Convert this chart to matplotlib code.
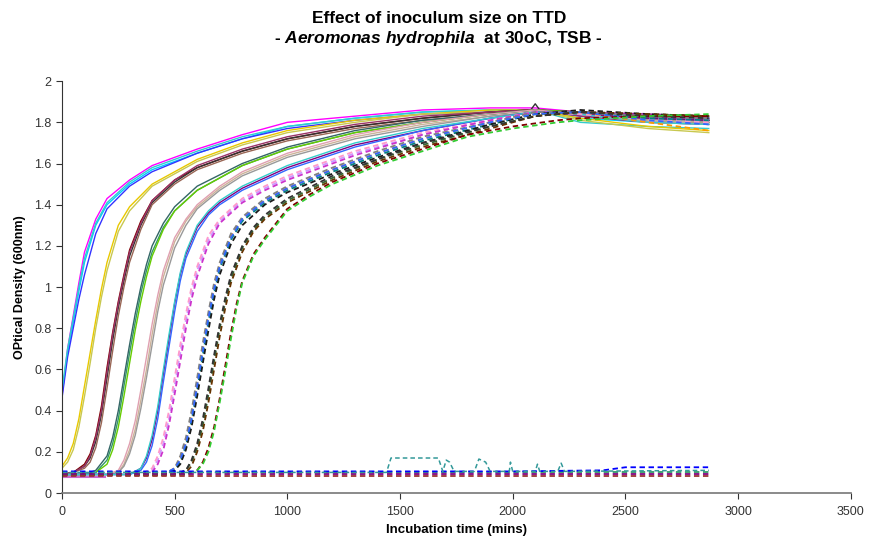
import numpy as np
import matplotlib.pyplot as plt

# ---- data (time in mins, OD at 600nm) ----
# group A: already growing at t=0
t_a = [0, 25, 50, 75, 100, 150, 200, 300, 400, 600, 800, 1000, 1300, 1600, 1900, 2100, 2300, 2600, 2870]
od_a = [
    [0.47, 0.70, 0.86, 1.02, 1.17, 1.33, 1.43, 1.52, 1.59, 1.67, 1.74, 1.80, 1.83, 1.86, 1.87, 1.87, 1.85, 1.84, 1.83],
    [0.48, 0.68, 0.83, 0.98, 1.12, 1.30, 1.40, 1.50, 1.57, 1.65, 1.72, 1.78, 1.82, 1.85, 1.86, 1.86, 1.82, 1.80, 1.79],
    [0.46, 0.66, 0.80, 0.94, 1.06, 1.26, 1.38, 1.49, 1.56, 1.65, 1.72, 1.77, 1.81, 1.84, 1.85, 1.86, 1.83, 1.82, 1.81],
    [0.50, 0.70, 0.85, 1.00, 1.14, 1.31, 1.41, 1.51, 1.58, 1.66, 1.73, 1.78, 1.82, 1.85, 1.86, 1.86, 1.80, 1.78, 1.77],
]
col_a = ['#FF00FF', '#00CCFF', '#3333FF', '#33CCCC']

# group B: yellow curves
t_b = [0, 25, 50, 75, 100, 125, 150, 175, 200, 250, 300, 400, 600, 800, 1000, 1300, 1600, 1900, 2100, 2300, 2600, 2870]
od_b = [
    [0.13, 0.17, 0.24, 0.36, 0.52, 0.68, 0.84, 0.99, 1.12, 1.30, 1.39, 1.50, 1.62, 1.70, 1.76, 1.81, 1.84, 1.86, 1.86, 1.82, 1.78, 1.76],
    [0.12, 0.15, 0.21, 0.32, 0.47, 0.63, 0.80, 0.95, 1.08, 1.27, 1.37, 1.49, 1.61, 1.69, 1.75, 1.80, 1.84, 1.85, 1.86, 1.81, 1.77, 1.75],
]
col_b = ['#E8C800', '#C8C850']

# group C: dark red / black
t_c = [0, 50, 100, 125, 150, 175, 200, 225, 250, 275, 300, 350, 400, 500, 600, 800, 1000, 1300, 1600, 1900, 2080, 2100, 2120, 2300, 2600, 2870]
od_c = [
    [0.09, 0.10, 0.14, 0.19, 0.28, 0.42, 0.61, 0.78, 0.93, 1.06, 1.18, 1.32, 1.42, 1.52, 1.58, 1.66, 1.72, 1.78, 1.82, 1.85, 1.86, 1.86, 1.86, 1.84, 1.82, 1.81],
    [0.09, 0.10, 0.13, 0.17, 0.25, 0.38, 0.56, 0.74, 0.90, 1.03, 1.15, 1.30, 1.41, 1.51, 1.58, 1.66, 1.72, 1.78, 1.82, 1.85, 1.86, 1.89, 1.86, 1.85, 1.83, 1.82],
    [0.09, 0.10, 0.12, 0.15, 0.22, 0.34, 0.51, 0.69, 0.86, 1.00, 1.12, 1.28, 1.40, 1.50, 1.57, 1.65, 1.71, 1.77, 1.81, 1.84, 1.86, 1.86, 1.86, 1.84, 1.81, 1.80],
    [0.09, 0.10, 0.13, 0.18, 0.27, 0.40, 0.59, 0.77, 0.92, 1.05, 1.17, 1.31, 1.42, 1.52, 1.59, 1.67, 1.73, 1.79, 1.83, 1.85, 1.86, 1.86, 1.86, 1.83, 1.80, 1.79],
]
col_c = ['#800000', '#333333', '#996655', '#993366']

# group D1: teal / green solid
t_d1 = [0, 100, 150, 200, 225, 250, 275, 300, 325, 350, 375, 400, 450, 500, 600, 800, 1000, 1300, 1600, 1900, 2100, 2300, 2600, 2870]
od_d1 = [
    [0.09, 0.09, 0.10, 0.16, 0.24, 0.36, 0.52, 0.68, 0.83, 0.97, 1.08, 1.17, 1.29, 1.37, 1.47, 1.59, 1.67, 1.75, 1.80, 1.84, 1.86, 1.84, 1.82, 1.81],
    [0.09, 0.09, 0.10, 0.14, 0.21, 0.32, 0.47, 0.63, 0.79, 0.93, 1.05, 1.15, 1.28, 1.37, 1.47, 1.59, 1.67, 1.75, 1.80, 1.84, 1.86, 1.85, 1.83, 1.83],
    [0.09, 0.09, 0.11, 0.18, 0.27, 0.40, 0.56, 0.72, 0.87, 1.00, 1.11, 1.20, 1.31, 1.39, 1.49, 1.60, 1.68, 1.76, 1.81, 1.84, 1.86, 1.84, 1.81, 1.80],
]
col_d1 = ['#339966', '#66CC00', '#336666']

# group D2: tan / grey solid
t_d2 = [0, 200, 250, 275, 300, 325, 350, 375, 400, 425, 450, 500, 550, 600, 700, 800, 1000, 1300, 1600, 1900, 2100, 2300, 2600, 2870]
od_d2 = [
    [0.09, 0.09, 0.10, 0.14, 0.21, 0.31, 0.45, 0.60, 0.77, 0.92, 1.05, 1.22, 1.32, 1.39, 1.48, 1.55, 1.64, 1.73, 1.79, 1.83, 1.85, 1.84, 1.81, 1.80],
    [0.09, 0.09, 0.10, 0.13, 0.19, 0.28, 0.41, 0.56, 0.72, 0.88, 1.01, 1.19, 1.30, 1.38, 1.47, 1.54, 1.63, 1.72, 1.78, 1.83, 1.85, 1.85, 1.83, 1.82],
    [0.09, 0.09, 0.11, 0.16, 0.24, 0.35, 0.50, 0.66, 0.82, 0.96, 1.08, 1.24, 1.33, 1.40, 1.49, 1.56, 1.65, 1.74, 1.80, 1.84, 1.86, 1.84, 1.80, 1.79],
]
col_d2 = ['#CCB299', '#999999', '#E0A0B0']

# group E: purple / blue
t_e = [0, 300, 350, 375, 400, 425, 450, 475, 500, 525, 550, 600, 650, 700, 800, 1000, 1300, 1600, 1900, 2100, 2300, 2600, 2870]
od_e = [
    [0.09, 0.09, 0.12, 0.17, 0.26, 0.40, 0.58, 0.75, 0.92, 1.06, 1.16, 1.29, 1.36, 1.41, 1.48, 1.58, 1.69, 1.76, 1.82, 1.85, 1.84, 1.82, 1.81],
    [0.09, 0.09, 0.11, 0.15, 0.23, 0.36, 0.54, 0.71, 0.88, 1.03, 1.14, 1.27, 1.35, 1.40, 1.47, 1.57, 1.68, 1.76, 1.82, 1.85, 1.85, 1.83, 1.82],
    [0.09, 0.09, 0.12, 0.18, 0.28, 0.42, 0.60, 0.77, 0.93, 1.07, 1.17, 1.30, 1.37, 1.42, 1.49, 1.59, 1.70, 1.77, 1.82, 1.85, 1.84, 1.80, 1.79],
]
col_e = ['#800080', '#3366FF', '#33CCCC']

# group F: lilac / pink dashed
t_f = [0, 350, 400, 425, 450, 475, 500, 525, 550, 575, 600, 650, 700, 800, 900, 1000, 1300, 1600, 1900, 2100, 2300, 2600, 2870]
od_f = [
    [0.09, 0.09, 0.11, 0.16, 0.24, 0.36, 0.52, 0.68, 0.84, 0.97, 1.08, 1.23, 1.32, 1.42, 1.48, 1.53, 1.65, 1.74, 1.81, 1.85, 1.85, 1.82, 1.81],
    [0.09, 0.09, 0.12, 0.18, 0.27, 0.40, 0.56, 0.72, 0.87, 1.00, 1.10, 1.25, 1.33, 1.43, 1.49, 1.54, 1.66, 1.75, 1.81, 1.85, 1.84, 1.81, 1.80],
    [0.09, 0.09, 0.10, 0.14, 0.21, 0.33, 0.48, 0.64, 0.80, 0.94, 1.05, 1.21, 1.31, 1.41, 1.47, 1.52, 1.64, 1.74, 1.81, 1.85, 1.85, 1.83, 1.82],
]
col_f = ['#CC99FF', '#FF99CC', '#CC33CC']

# group G: orange / teal / grey / black dashed
t_g = [0, 450, 500, 525, 550, 575, 600, 625, 650, 675, 700, 750, 800, 900, 1000, 1200, 1400, 1600, 1900, 2100, 2300, 2600, 2870]
od_g = [
    [0.09, 0.09, 0.12, 0.17, 0.25, 0.37, 0.53, 0.70, 0.86, 1.00, 1.11, 1.25, 1.33, 1.42, 1.48, 1.57, 1.65, 1.72, 1.80, 1.84, 1.85, 1.80, 1.76],
    [0.09, 0.09, 0.11, 0.15, 0.23, 0.35, 0.50, 0.67, 0.83, 0.97, 1.09, 1.23, 1.32, 1.41, 1.47, 1.56, 1.64, 1.71, 1.79, 1.84, 1.85, 1.82, 1.81],
    [0.09, 0.09, 0.12, 0.18, 0.27, 0.40, 0.56, 0.73, 0.88, 1.02, 1.12, 1.26, 1.34, 1.43, 1.49, 1.58, 1.66, 1.73, 1.80, 1.85, 1.85, 1.83, 1.82],
    [0.09, 0.09, 0.11, 0.14, 0.21, 0.32, 0.47, 0.63, 0.79, 0.94, 1.06, 1.21, 1.30, 1.40, 1.46, 1.55, 1.63, 1.70, 1.79, 1.84, 1.86, 1.84, 1.83],
    [0.09, 0.09, 0.12, 0.16, 0.24, 0.36, 0.52, 0.69, 0.85, 0.99, 1.10, 1.24, 1.33, 1.42, 1.48, 1.57, 1.65, 1.72, 1.80, 1.84, 1.85, 1.81, 1.79],
]
col_g = ['#FF9900', '#008080', '#808080', '#1A1A1A', '#3366FF']

# group H: dark green / brown dashed
t_h = [0, 500, 550, 575, 600, 625, 650, 675, 700, 725, 750, 800, 850, 900, 1000, 1200, 1400, 1600, 1900, 2100, 2300, 2600, 2870]
od_h = [
    [0.09, 0.09, 0.11, 0.15, 0.22, 0.33, 0.48, 0.64, 0.80, 0.93, 1.04, 1.19, 1.28, 1.34, 1.42, 1.53, 1.62, 1.69, 1.78, 1.83, 1.85, 1.84, 1.83],
    [0.09, 0.09, 0.10, 0.13, 0.20, 0.30, 0.44, 0.60, 0.76, 0.90, 1.02, 1.17, 1.27, 1.33, 1.41, 1.52, 1.61, 1.68, 1.77, 1.83, 1.85, 1.84, 1.83],
    [0.09, 0.09, 0.11, 0.16, 0.24, 0.36, 0.51, 0.67, 0.82, 0.95, 1.06, 1.20, 1.29, 1.35, 1.43, 1.54, 1.62, 1.70, 1.78, 1.83, 1.85, 1.83, 1.82],
]
col_h = ['#336633', '#663300', '#333333']

# group I: latest risers, green dashed
t_i = [0, 550, 600, 625, 650, 675, 700, 725, 750, 775, 800, 850, 900, 1000, 1100, 1200, 1400, 1600, 1800, 2000, 2200, 2300, 2600, 2870]
od_i = [
    [0.09, 0.09, 0.11, 0.15, 0.22, 0.32, 0.46, 0.62, 0.78, 0.92, 1.03, 1.16, 1.24, 1.38, 1.45, 1.51, 1.60, 1.67, 1.74, 1.78, 1.81, 1.82, 1.83, 1.83],
    [0.09, 0.09, 0.11, 0.14, 0.20, 0.30, 0.44, 0.59, 0.75, 0.90, 1.02, 1.15, 1.23, 1.37, 1.44, 1.50, 1.59, 1.66, 1.73, 1.77, 1.80, 1.81, 1.83, 1.84],
]
col_i = ['#800000', '#33CC33']

# wells with no growth
t_flat = [0, 500, 1000, 1500, 2000, 2400, 2500, 2870]
od_flat = [
    [0.085, 0.085, 0.085, 0.085, 0.085, 0.085, 0.085, 0.085],
    [0.09, 0.09, 0.09, 0.09, 0.09, 0.09, 0.09, 0.09],
    [0.10, 0.10, 0.10, 0.10, 0.10, 0.10, 0.10, 0.10],
    [0.105, 0.105, 0.105, 0.105, 0.105, 0.11, 0.125, 0.125],
]
col_flat = ['#993333', '#800080', '#339966', '#0000FF']

t_teal = [0, 1440, 1460, 1670, 1690, 1705, 1720, 1740, 1830, 1850, 1880, 1900, 1985, 1990, 2000, 2100, 2110, 2120, 2200, 2215, 2230, 2870]
od_teal = [0.10, 0.10, 0.17, 0.17, 0.105, 0.16, 0.15, 0.105, 0.105, 0.165, 0.15, 0.105, 0.105, 0.15, 0.105, 0.105, 0.14, 0.105, 0.105, 0.145, 0.105, 0.11]

t_short = [0, 190]
od_short = [0.078, 0.078]

solid_groups = [(t_a, od_a, col_a), (t_b, od_b, col_b), (t_c, od_c, col_c),
                (t_d1, od_d1, col_d1), (t_d2, od_d2, col_d2), (t_e, od_e, col_e)]
dashed_groups = [(t_f, od_f, col_f), (t_g, od_g, col_g), (t_h, od_h, col_h),
                 (t_i, od_i, col_i), (t_flat, od_flat, col_flat)]

plt.rcParams['font.family'] = ['Liberation Sans', 'DejaVu Sans']
plt.rcParams['mathtext.fontset'] = 'custom'
plt.rcParams['mathtext.it'] = 'Liberation Sans:italic:bold'
plt.rcParams['mathtext.rm'] = 'Liberation Sans:bold'

fig = plt.figure(figsize=(8.69, 5.41), dpi=100)
ax = fig.add_axes([0.0713, 0.0887, 0.9077, 0.7613])

for t, rows, cols in solid_groups:
    for od, c in zip(rows, cols):
        ax.plot(t, od, color=c, lw=1.0, solid_joinstyle='round')

ax.plot(t_short, od_short, color='#CC66CC', lw=1.5)

for t, rows, cols in dashed_groups:
    for od, c in zip(rows, cols):
        ax.plot(t, od, color=c, lw=1.3, dashes=(3, 2))

ax.plot(t_teal, od_teal, color='#339999', lw=1.1, dashes=(3, 2))

ax.set_xlim(0, 3500)
ax.set_ylim(0, 2)
ax.set_xticks(np.arange(0, 3501, 500))
ax.set_yticks(np.arange(0, 2.01, 0.2))
ax.set_yticklabels(['0', '0.2', '0.4', '0.6', '0.8', '1', '1.2', '1.4', '1.6', '1.8', '2'])
ax.tick_params(direction='out', length=4, width=0.8, labelsize=9, colors='#333333')
ax.tick_params(axis='x', pad=5)
for s in ['top', 'right']:
    ax.spines[s].set_visible(False)
ax.spines['left'].set_color('#333333')
ax.spines['bottom'].set_color('#777777')
ax.spines['bottom'].set_linewidth(1.2)

ax.set_xlabel('Incubation time (mins)', fontsize=9.5, fontweight='bold', labelpad=5)
ax.set_ylabel('OPtical Density (600nm)', fontsize=9, fontweight='bold', labelpad=6)

fig.text(0.505, 0.966, 'Effect of inoculum size on TTD', ha='center', va='center',
         fontsize=12.5, fontweight='bold')
fig.text(0.505, 0.929, r'- $\it{Aeromonas\ hydrophila}$  at 30oC, TSB -', ha='center', va='center',
         fontsize=12.5, fontweight='bold')

fig.savefig('out.png', dpi=100)
